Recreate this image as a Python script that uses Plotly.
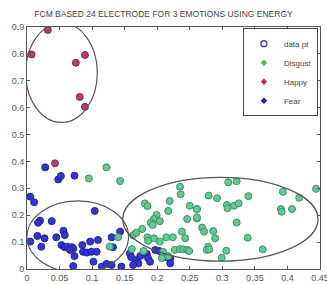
import plotly.graph_objects as go

title_text = "FCM BASED 24 ELECTRODE FOR 3 EMOTIONS USING ENERGY"

happy_x = [0.032, 0.007, 0.075, 0.089, 0.081, 0.089, 0.043]
happy_y = [0.889, 0.798, 0.767, 0.796, 0.640, 0.603, 0.393]

fear_x = [0.028, 0.048, 0.052, 0.073, 0.005, 0.011, 0.020, 0.017, 0.038, 0.104,
          0.005, 0.016, 0.027, 0.022, 0.045, 0.056, 0.058, 0.053, 0.058, 0.062,
          0.069, 0.071, 0.066, 0.073, 0.085, 0.086, 0.097, 0.092, 0.099, 0.109,
          0.107, 0.102, 0.071, 0.115, 0.122,
          0.143, 0.130, 0.132, 0.158, 0.160, 0.167, 0.174, 0.184, 0.186, 0.197,
          0.203, 0.212, 0.220, 0.220, 0.189, 0.171, 0.163, 0.145, 0.130]
fear_y = [0.378, 0.333, 0.346, 0.347, 0.269, 0.248, 0.180, 0.172, 0.178, 0.216,
          0.102, 0.123, 0.114, 0.083, 0.118, 0.142, 0.126, 0.089, 0.081, 0.083,
          0.081, 0.076, 0.071, 0.048, 0.089, 0.064, 0.102, 0.061, 0.064, 0.108,
          0.064, 0.027, 0.011, 0.009, 0.019,
          0.139, 0.118, 0.081, 0.058, 0.044, 0.033, 0.048, 0.056, 0.040, 0.071,
          0.067, 0.044, 0.040, 0.021, 0.027, 0.021, 0.015, 0.009, 0.015]

disgust_x = [0.122, 0.095, 0.127,
             0.143, 0.235, 0.236, 0.181, 0.185, 0.219, 0.217, 0.250, 0.261, 0.199,
             0.195, 0.204, 0.190, 0.193, 0.177, 0.246, 0.261, 0.238, 0.243, 0.185,
             0.195, 0.186, 0.204, 0.214, 0.224, 0.163, 0.168, 0.140, 0.161, 0.179,
             0.209, 0.227, 0.235, 0.240, 0.246, 0.249, 0.207, 0.217,
             0.309, 0.322, 0.279, 0.292, 0.340, 0.307, 0.308, 0.318, 0.325, 0.393,
             0.418, 0.444, 0.390, 0.391, 0.407, 0.322, 0.261, 0.261, 0.269, 0.272,
             0.286, 0.289, 0.339, 0.278, 0.276, 0.280, 0.306, 0.362, 0.299]
disgust_y = [0.378, 0.337, 0.083,
             0.327, 0.306, 0.278, 0.244, 0.234, 0.253, 0.216, 0.235, 0.223, 0.201,
             0.186, 0.178, 0.172, 0.164, 0.149, 0.186, 0.188, 0.139, 0.114, 0.118,
             0.114, 0.105, 0.102, 0.118, 0.118, 0.126, 0.135, 0.118, 0.074, 0.067,
             0.064, 0.071, 0.074, 0.073, 0.071, 0.067, 0.040, 0.048,
             0.322, 0.326, 0.273, 0.263, 0.271, 0.238, 0.226, 0.235, 0.244, 0.287,
             0.265, 0.298, 0.223, 0.213, 0.223, 0.173, 0.222, 0.192, 0.154, 0.139,
             0.141, 0.114, 0.116, 0.083, 0.071, 0.073, 0.068, 0.073, 0.042]

# cluster ellipses: center x, center y, semi-axis x, semi-axis y
ell_cx = [0.053, 0.078, 0.297]
ell_cy = [0.730, 0.120, 0.185]
ell_ax = [0.055, 0.078, 0.150]
ell_ay = [0.185, 0.133, 0.156]

x_ticks = [0, 0.05, 0.1, 0.15, 0.2, 0.25, 0.3, 0.35, 0.4, 0.45]
x_tick_labels = ["0", "0.05", "0.1", "0.15", "0.2", "0.25", "0.3", "0.35", "0.4", "0.45"]
y_ticks = [0, 0.1, 0.2, 0.3, 0.4, 0.5, 0.6, 0.7, 0.8, 0.9]
y_tick_labels = ["0", "0.1", "0.2", "0.3", "0.4", "0.5", "0.6", "0.7", "0.8", "0.9"]

fig = go.Figure()

pt_size = 7
fig.add_trace(go.Scatter(x=fear_x, y=fear_y, mode="markers", showlegend=False,
                         marker=dict(size=pt_size, color="#3535cf",
                                     line=dict(color="#22229a", width=1))))
fig.add_trace(go.Scatter(x=disgust_x, y=disgust_y, mode="markers", showlegend=False,
                         marker=dict(size=pt_size, color="#63c98c",
                                     line=dict(color="#3d8f72", width=1))))
fig.add_trace(go.Scatter(x=happy_x, y=happy_y, mode="markers", showlegend=False,
                         marker=dict(size=pt_size, color="#b4406e",
                                     line=dict(color="#7a2a55", width=1))))

# legend-only entries
fig.add_trace(go.Scatter(x=[None], y=[None], mode="markers", name="data pt",
                         marker=dict(symbol="circle-open", size=6, color="#3a3a9a",
                                     line=dict(width=1.3))))
fig.add_trace(go.Scatter(x=[None], y=[None], mode="markers", name="Disgust",
                         marker=dict(symbol="diamond", size=5, color="#40c060")))
fig.add_trace(go.Scatter(x=[None], y=[None], mode="markers", name="Happy",
                         marker=dict(symbol="diamond", size=5, color="#c03050")))
fig.add_trace(go.Scatter(x=[None], y=[None], mode="markers", name="Fear",
                         marker=dict(symbol="diamond", size=5, color="#2020b0")))

for cx, cy, ax, ay in zip(ell_cx, ell_cy, ell_ax, ell_ay):
    fig.add_shape(type="circle", xref="x", yref="y",
                  x0=cx - ax, x1=cx + ax, y0=cy - ay, y1=cy + ay,
                  line=dict(color="#555555", width=1.2))

axis_common = dict(showgrid=False, zeroline=False, showline=True, linecolor="#555555",
                   linewidth=1, mirror="ticks", ticks="inside", ticklen=3,
                   automargin=False, ticklabeloverflow="allow",
                   tickcolor="#555555", tickfont=dict(size=9, color="#555555",
                                                      family="Liberation Sans, Arial"))

fig.update_layout(
    width=327, height=284,
    margin=dict(l=27, r=7, t=27, b=15),
    paper_bgcolor="white", plot_bgcolor="white",
    title=dict(text=title_text, x=0.5, xanchor="center", y=0.95, yanchor="middle",
               font=dict(size=8.5, color="#444444", family="Liberation Sans, Arial")),
    xaxis=dict(range=[0, 0.45], tickvals=x_ticks, ticktext=x_tick_labels, **axis_common),
    yaxis=dict(range=[0, 0.9], tickvals=y_ticks, ticktext=y_tick_labels, **axis_common),
    legend=dict(x=0.993, xanchor="right", y=0.995, yanchor="top",
                bgcolor="white", bordercolor="#444444", borderwidth=1,
                font=dict(size=8, color="#444444", family="Liberation Sans, Arial"),
                itemwidth=30, tracegroupgap=0),
    showlegend=True,
)

fig.write_html("out.html", config={"displayModeBar": False},
               post_script="document.body.style.margin='0';")
